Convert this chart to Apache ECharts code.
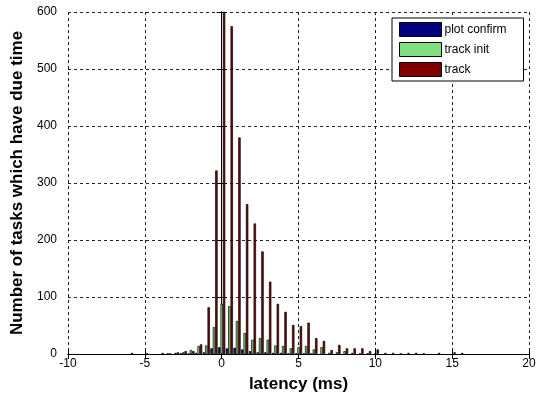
<!DOCTYPE html>
<html>
<head>
<meta charset="utf-8">
<script src="https://cdn.jsdelivr.net/npm/echarts@6/dist/echarts.min.js"></script>
<style>
html,body{margin:0;padding:0;background:#fff;}
#chart{width:547px;height:400px;}
</style>
</head>
<body>
<div id="chart"></div>
<script>
// Bin centres (ms)
const bins = [-6, -5.5, -5, -4.5, -4, -3.5, -3, -2.5, -2, -1.5, -1, -0.5, 0, 0.5, 1, 1.5, 2, 2.5, 3, 3.5, 4, 4.5, 5, 5.5, 6, 6.5, 7, 7.5, 8, 8.5, 9, 9.5, 10, 10.5, 11, 11.5, 12, 12.5, 13, 13.5, 14, 14.5, 15, 15.5];
const plotConfirm = [0, 0, 0, 0, 0, 0, 0, 1, 1, 2, 3, 10, 12, 10, 11, 8, 5, 3, 3, 2, 2, 1, 1, 1, 1, 0, 0, 0, 0, 0, 0, 0, 0, 0, 0, 0, 0, 0, 0, 0, 0, 0, 0, 0];
const trackInit = [0, 0, 0, 0, 0, 1, 2, 3, 7, 14, 15, 47, 88, 84, 58, 37, 25, 28, 25, 15, 14, 10, 12, 14, 8, 12, 2, 3, 5, 2, 1, 1, 1, 0, 0, 0, 0, 0, 0, 0, 0, 0, 0, 0];
const track = [2, 0, 1, 0, 2, 1, 3, 5, 5, 17, 82, 322, 700, 575, 380, 263, 229, 180, 127, 88, 74, 51, 49, 55, 28, 23, 7, 16, 10, 10, 10, 5, 8, 2, 2, 1, 2, 2, 1, 0, 2, 0, 3, 2];
const seriesNames = ['plot confirm', 'track init', 'track'];
const xTicks = {min: -10, max: 20, interval: 5};
const yTicks = {min: 0, max: 600, interval: 100};

const colors = ['#000080', '#80e080', '#800000'];
const font = "'Liberation Sans', Arial, Helvetica, sans-serif";

function pairs(vals) {
  const out = [];
  for (let i = 0; i < bins.length; i++) {
    if (vals[i] > 0) out.push([bins[i], vals[i]]);
  }
  return out;
}

const chart = echarts.init(document.getElementById('chart'), null, {renderer: 'canvas'});
const allVals = [plotConfirm, trackInit, track];

const option = {
  animation: false,
  backgroundColor: '#fff',
  textStyle: {fontFamily: font, color: '#000'},
  grid: {left: 68, right: 18, top: 12, bottom: 46, containLabel: false},
  legend: {
    orient: 'vertical',
    left: 392,
    top: 18,
    data: seriesNames,
    icon: 'rect',
    itemWidth: 42,
    itemHeight: 14,
    itemGap: 5,
    padding: [4, 17, 4, 7],
    backgroundColor: '#fff',
    borderColor: '#000',
    borderWidth: 1,
    borderRadius: 0,
    textStyle: {fontFamily: font, fontSize: 12, color: '#000', padding: [0, 0, 0, -2]},
    itemStyle: {borderColor: '#000', borderWidth: 1}
  },
  xAxis: [
    {
      type: 'value', position: 'bottom',
      min: xTicks.min, max: xTicks.max, interval: xTicks.interval,
      name: 'latency (ms)', nameLocation: 'middle', nameGap: 22,
      nameTextStyle: {fontFamily: font, fontSize: 17, fontWeight: 'bold', color: '#000'},
      axisLine: {show: true, lineStyle: {color: '#000', width: 1}},
      axisTick: {show: true, inside: true, length: 5, lineStyle: {color: '#000'}},
      axisLabel: {fontFamily: font, fontSize: 12, color: '#000', margin: 4},
      splitLine: {show: true, lineStyle: {color: '#222', type: [3, 3], width: 1}}
    },
    {
      type: 'value', position: 'top',
      min: xTicks.min, max: xTicks.max, interval: xTicks.interval,
      axisLine: {show: true, lineStyle: {color: '#000', width: 1}},
      axisTick: {show: true, inside: true, length: 5, lineStyle: {color: '#000'}},
      axisLabel: {show: false},
      splitLine: {show: false}
    }
  ],
  yAxis: [
    {
      type: 'value', position: 'left',
      min: yTicks.min, max: yTicks.max, interval: yTicks.interval,
      name: 'Number of tasks which have due time', nameLocation: 'middle', nameGap: 37,
      nameTextStyle: {fontFamily: font, fontSize: 17, fontWeight: 'bold', color: '#000'},
      axisLine: {show: true, lineStyle: {color: '#000', width: 1}},
      axisTick: {show: true, inside: true, length: 5, lineStyle: {color: '#000'}},
      axisLabel: {fontFamily: font, fontSize: 12, color: '#000', margin: 11},
      splitLine: {show: true, lineStyle: {color: '#222', type: [3, 3], width: 1}}
    },
    {
      type: 'value', position: 'right',
      min: yTicks.min, max: yTicks.max, interval: yTicks.interval,
      axisLine: {show: true, lineStyle: {color: '#000', width: 1}},
      axisTick: {show: true, inside: true, length: 5, lineStyle: {color: '#000'}},
      axisLabel: {show: false},
      splitLine: {show: false}
    }
  ],
  series: seriesNames.map((name, k) => ({
    name: name,
    type: 'bar',
    xAxisIndex: 0,
    yAxisIndex: 0,
    barWidth: 2.4,
    barGap: '0%',
    clip: true,
    itemStyle: {color: colors[k], borderColor: '#000', borderWidth: 0.7},
    data: pairs(allVals[k])
  }))
};
chart.setOption(option);
</script>
</body>
</html>
